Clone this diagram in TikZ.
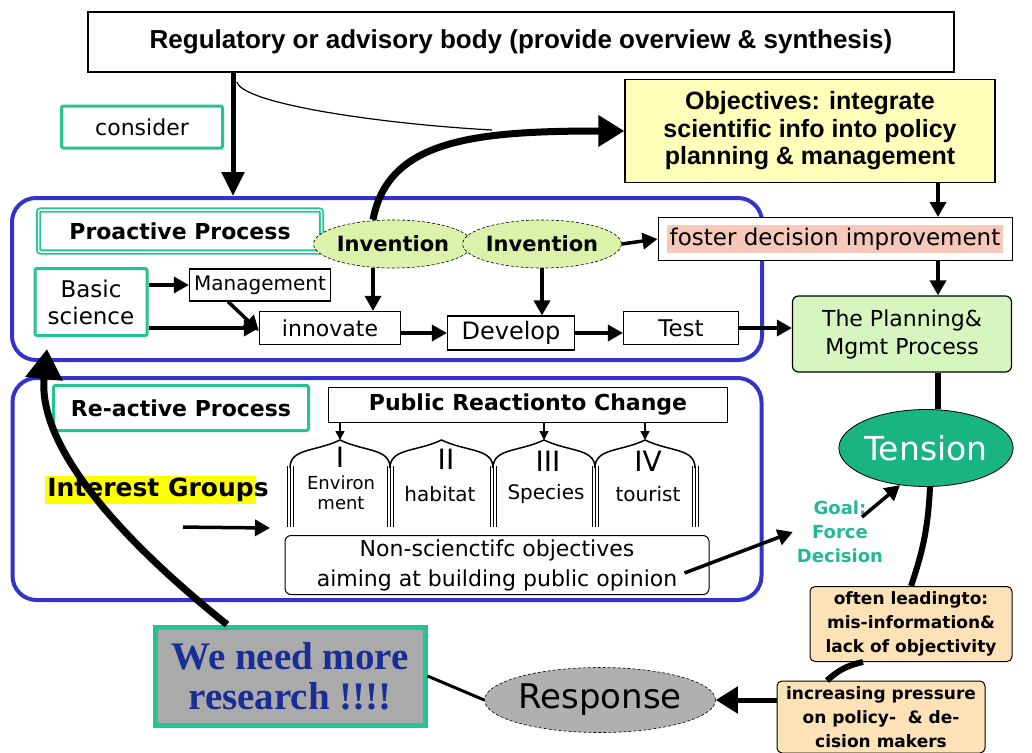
\documentclass[tikz,border=0pt]{standalone}
\usepackage{fontspec}
\setmainfont{DejaVu Sans}
\newfontfamily\helv{Liberation Sans}
\newfontfamily\tnr{Liberation Serif}
\usetikzlibrary{arrows.meta,shapes.geometric}

\definecolor{frameblue}{RGB}{50,50,205}
\definecolor{tealline}{RGB}{35,195,150}
\definecolor{tensionteal}{RGB}{25,180,130}
\definecolor{goalteal}{RGB}{35,185,150}
\definecolor{objyellow}{RGB}{255,255,185}
\definecolor{invgreen}{RGB}{220,242,170}
\definecolor{plangreen}{RGB}{215,245,190}
\definecolor{fosterpink}{RGB}{246,200,185}
\definecolor{notebeige}{RGB}{252,226,182}
\definecolor{respgray}{RGB}{176,176,176}
\definecolor{resgray}{RGB}{170,170,170}
\definecolor{resblue}{RGB}{25,45,150}
\definecolor{hlyellow}{RGB}{255,255,0}

\newcommand\fsz[2]{\fontsize{#1}{#2}\selectfont}

\begin{document}
\begin{tikzpicture}[
        x=1pt, y=-1pt,
        >={Triangle[length=15pt,width=16pt]},
        box/.style={
            rectangle,
            draw=black,
            line width=1.2pt,
            fill=white,
            inner sep=2pt,
            align=center
        },
        tealbox/.style={
            rectangle,
            draw=tealline,
            line width=3pt,
            rounded corners=2pt,
            fill=white,
            align=center
        },
        frame/.style={rectangle, draw=frameblue, line width=4pt, rounded corners=24pt},
        blob/.style={ellipse, draw=black, densely dashed, line width=0.6pt, inner sep=0pt},
        note/.style={
            rectangle,
            draw=black,
            line width=1pt,
            rounded corners=5pt,
            fill=notebeige,
            align=center,
            inner sep=1pt,
            font=\bfseries\fsz{17}{24}
        },
        label/.style={inner sep=0pt, align=center},
        arrow/.style={->, line width=3.5pt},
        thinarrow/.style={-{Triangle[length=9pt,width=9pt]}, line width=1.5pt}
    ]

    \path[use as bounding box, fill=white] (0,0) rectangle (1032,752);

    % helper columns
    \coordinate (colA) at (233,0);
    \coordinate (colB) at (373,0);
    \coordinate (rx) at (938,0);

    % top
    \node[box, line width=1.5pt, minimum width=866, minimum height=60, font=\helv\bfseries\fsz{26}{30}] (reg) at (521,42) {Regulatory or advisory body (provide overview \& synthesis)};
    \node[tealbox, minimum width=161, minimum height=42, font=\fsz{22}{26}] (consider) at (142,127) {consider};
    \node[box, fill=objyellow, minimum width=370, minimum height=103, font=\helv\bfseries\fsz{25}{27.5}] (obj) at (810,131) {Objectives: integrate\\scientific info into policy\\planning \& management};

    % proactive part
    \node[frame, minimum width=750, minimum height=162] (proframe) at (387,279) {};
    \node[tealbox, double=white, double distance=1.5pt, line width=1.8pt, minimum width=283, minimum height=42, font=\bfseries\fsz{22}{26}] (proact) at (180,231) {Proactive Process};
    \node[blob, fill=invgreen, minimum width=137, minimum height=48, font=\bfseries\fsz{21}{24}] (inv1) at (393,244) {Invention};
    \node[blob, fill=invgreen, minimum width=140, minimum height=48, font=\bfseries\fsz{21}{24}] (inv2) at (542,244) {Invention};
    \node[box, line width=1pt, minimum width=354, minimum height=43, inner sep=0pt, font=\fsz{23}{26}] (foster) at (835,239) {\colorbox{fosterpink}{foster decision improvement}};
    \node[box, rounded corners=6pt, fill=plangreen, minimum width=219, minimum height=76, font=\fsz{22}{28}] (plan) at (902,334) {The Planning\&\\Mgmt Process};
    \node[tealbox, minimum width=112, minimum height=67, font=\fsz{23}{27}] (basic) at (91,302) {Basic\\science};
    \node[box, minimum width=141, minimum height=32, font=\fsz{20}{24}] (mgmt) at (260,285) {Management};
    \node[box, minimum width=141, minimum height=33, font=\fsz{22}{26}] (innov) at (330,328) {innovate};
    \node[box, minimum width=127, minimum height=34, font=\fsz{24}{28}] (devel) at (511,333) {Develop};
    \node[box, minimum width=115, minimum height=33, font=\fsz{23}{26}] (test) at (681,328) {Test};

    \draw[arrow, line width=5pt, -{Triangle[length=24pt,width=22pt]}] (reg.south -| colA) -- (proframe.north -| colA);
    \coordinate (thinstart) at (237,82);
    \coordinate (merge) at (492,130);
    \draw[line width=1.2pt] (thinstart) .. controls +(6,22) and +(-110,-6) .. (merge);
    \draw[line width=7pt, -{Triangle[length=26pt,width=30pt]}] (inv1.north -| colB) .. controls +(15,-80) and +(-150,0) .. (obj.west);
    \draw[arrow] (obj.south -| rx) -- (foster.north -| rx);
    \draw[arrow] (foster.south -| rx) -- (plan.north -| rx);
    \draw[arrow] (inv2.east) -- (foster.west);
    \draw[arrow] (basic.east |- mgmt.west) -- (mgmt.west);
    \draw[arrow] (basic.east |- innov.west) -- (innov.west);
    \draw[arrow] ([xshift=-32pt]mgmt.south) -- ([yshift=-3pt]innov.west);
    \draw[arrow] (inv1.south -| colB) -- (innov.north -| colB);
    \draw[arrow] (inv2.south) -- (inv2.south |- devel.north);
    \draw[arrow] (innov.east |- devel.west) -- (devel.west);
    \draw[arrow] (devel.east) -- (test.west |- devel.east);
    \draw[arrow] (test.east) -- (plan.west |- test.east);

    % re-active part
    \node[frame, minimum width=749, minimum height=222] (reframe) at (387,489) {};
    \node[tealbox, minimum width=255, minimum height=45, font=\bfseries\fsz{22}{26}] (react) at (181,408) {Re-active Process};
    \node[box, minimum width=399, minimum height=35, font=\bfseries\fsz{22}{26}] (pubreact) at (528,405) {Public Reactionto Change};

    \foreach \xl/\xr [count=\i] in {290/390,390/493,493/595,595/695} {
        \pgfmathsetmacro\xm{(\xl+\xr)/2}
        \draw[line width=1.5pt] (\xl,468) .. controls (\xl,448) and (\xm-25,452) .. (\xm,440)
            .. controls (\xm+25,452) and (\xr,448) .. (\xr,468);
        \coordinate (peak\i) at (\xm,440);
    }
    \foreach \x in {290,390,493,595,695}
        \foreach \d in {-3,0,3}
            \draw[line width=0.8pt] (\x+\d,466) -- (\x+\d,527);
    \draw[thinarrow] (pubreact.south -| peak1) -- (peak1);
    \draw[thinarrow] (pubreact.south -| peak3) -- (peak3);
    \draw[thinarrow] (pubreact.south -| peak4) -- (peak4);

    \node[label, font=\fsz{28}{30}] (numI) at (340,457) {I};
    \node[label, font=\fsz{28}{30}] (numII) at (446,459) {II};
    \node[label, font=\fsz{28}{30}] (numIII) at (548,461) {III};
    \node[label, font=\fsz{28}{30}] (numIV) at (648,461) {IV};
    \node[label, font=\fsz{18}{20}] (lblenv) at (341,493) {Environ\\ment};
    \node[label, font=\fsz{20}{24}] (lblhab) at (440,494) {habitat};
    \node[label, font=\fsz{20}{24}] (lblspec) at (546,494) {Species};
    \node[label, font=\fsz{20}{24}] (lbltour) at (648,494) {tourist};

    \node[label, font=\bfseries\fsz{25}{28}] (interest) at (157,490) {{\fboxsep=2pt\colorbox{hlyellow}{Interest Group}}\hspace{-2pt}s};
    \coordinate (igend) at (270,528);
    \draw[arrow] ([xshift=26pt,yshift=-23pt]interest.south) -- (igend);
    \node[box, rounded corners=6pt, line width=1pt, minimum width=424, minimum height=59, font=\fsz{22}{30}] (nonsci) at (497,565) {Non-scienctifc objectives\\aiming at building public opinion};

    % right column
    \node[label, text=goalteal, font=\bfseries\fsz{18}{24}] (goal) at (840,532) {Goal:\\Force\\Decision};
    \node[ellipse, draw=black, line width=0.8pt, fill=tensionteal, text=white, minimum width=167, minimum height=77, inner sep=0pt, font=\fsz{33}{36}] (tension) at (926,448) {Tension};
    \node[note, minimum width=202, minimum height=75] (often) at (911,624) {often leadingto:\\mis-information\&\\lack of objectivity};
    \node[note, minimum width=208, minimum height=72] (incr) at (881,717) {increasing pressure\\on policy- \ \& de-\\cision makers};

    \draw[arrow] ([xshift=-25pt,yshift=-8pt]nonsci.east) -- ([xshift=-4pt]goal.west);
    \draw[arrow] ([xshift=22pt,yshift=15pt]goal.center) -- (tension.235);
    \draw[line width=6pt] (plan.south -| rx) -- (tension.north -| rx);
    \draw[line width=6pt] ([xshift=4pt]tension.south) to[bend left=8] (often.north);
    \draw[line width=6pt] ([xshift=-48pt]often.south) to[bend right=15] ([xshift=-54pt]incr.north);

    % bottom
    \node[blob, fill=respgray, minimum width=225, minimum height=65, font=\fsz{34}{38}] (resp) at (600,700) {Response};
    \node[rectangle, draw=tealline, line width=5pt, fill=resgray, minimum width=270, minimum height=98, align=center, text=resblue, font=\tnr\bfseries\fsz{39}{40}] (research) at (290,676) {We need more\\research !!!!};

    \draw[line width=5pt, -{Triangle[length=22pt,width=26pt]}] (incr.west |- resp.east) -- (resp.east);
    \draw[line width=3pt] (resp.west) -- (research.east);
    \draw[line width=7pt, -{Triangle[length=30pt,width=36pt]}] ([xshift=-63pt]research.north) .. controls +(-100,-80) and +(-10,100) .. ([xshift=-44pt,yshift=-12pt]basic.south);

\end{tikzpicture}
\end{document}
